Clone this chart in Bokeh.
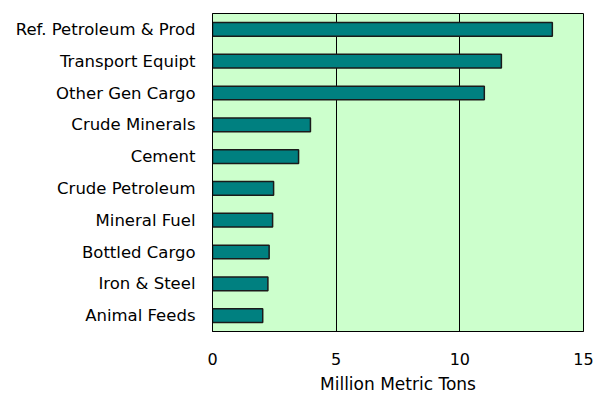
from bokeh.plotting import figure
from bokeh.models import Range1d, FactorRange, FixedTicker, ColumnDataSource
from bokeh.embed import file_html
from bokeh.resources import INLINE

# Cargo tonnage by commodity, million metric tons
commodities = [
    "Ref. Petroleum & Prod",
    "Transport Equipt",
    "Other Gen Cargo",
    "Crude Minerals",
    "Cement",
    "Crude Petroleum",
    "Mineral Fuel",
    "Bottled Cargo",
    "Iron & Steel",
    "Animal Feeds",
]
tons = [13.74, 11.68, 10.99, 3.96, 3.48, 2.47, 2.43, 2.29, 2.24, 2.03]
x_ticks = [0, 5, 10, 15]

FONT = "DejaVu Sans"

source = ColumnDataSource(data=dict(commodity=commodities, tons=tons))

p = figure(
    width=594, height=399,
    y_range=FactorRange(factors=list(reversed(commodities)), range_padding=0),
    x_range=Range1d(0, 15),
    output_backend="svg", toolbar_location=None,
    min_border_left=212, min_border_right=11,
    min_border_top=13, min_border_bottom=68,
)
p.background_fill_color = "#CCFFCC"
p.border_fill_color = "white"
p.outline_line_color = "#000000"
p.outline_line_width = 1

p.hbar(y="commodity", right="tons", left=0, height=0.43, source=source,
       fill_color="#008080", line_color="#1a1a1a", line_width=1.5)

# vertical gridlines only
p.ygrid.grid_line_color = None
p.xgrid.ticker = FixedTicker(ticks=[5, 10])
p.xgrid.grid_line_color = "black"
p.xgrid.grid_line_alpha = 1.0

p.xaxis.ticker = FixedTicker(ticks=x_ticks)
p.xaxis.axis_label = "Million Metric Tons"
p.xaxis.axis_label_text_font = FONT
p.xaxis.axis_label_text_font_style = "normal"
p.xaxis.axis_label_text_font_size = "17px"
p.xaxis.axis_label_text_color = "black"
p.xaxis.axis_label_standoff = 6
p.xaxis.major_label_text_font = FONT
p.xaxis.major_label_text_font_size = "16px"
p.xaxis.major_label_text_color = "black"
p.xaxis.major_label_standoff = 15
p.xaxis.major_tick_line_color = None
p.xaxis.minor_tick_line_color = None
p.xaxis.axis_line_color = "black"

p.yaxis.major_label_text_font = FONT
p.yaxis.major_label_text_font_size = "16.5px"
p.yaxis.major_label_text_color = "black"
p.yaxis.major_label_standoff = 11
p.yaxis.major_tick_line_color = None
p.yaxis.axis_line_color = "black"

open("out.html", "w").write(file_html(p, INLINE))
